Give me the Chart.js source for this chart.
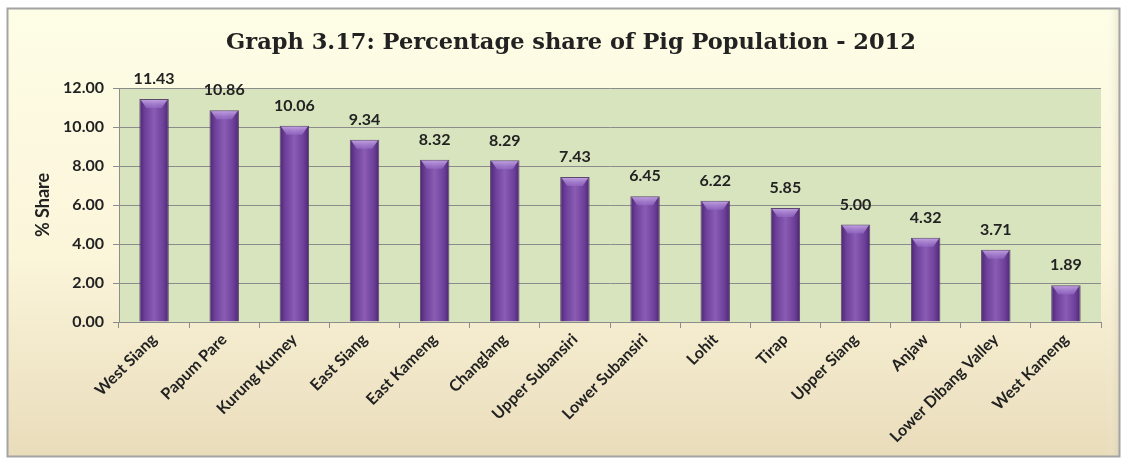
<!DOCTYPE html>
<html>
<head>
<meta charset="utf-8">
<script src="https://cdn.jsdelivr.net/npm/chart.js@4.4.1/dist/chart.umd.min.js"></script>
<style>
html,body{margin:0;padding:0;background:#ffffff;}
#wrap{width:1129px;height:464px;position:relative;}
</style>
</head>
<body>
<div id="wrap"><canvas id="c" width="1129" height="464"></canvas></div>
<script>
const chartTitle = 'Graph 3.17: Percentage share of Pig Population - 2012';
const yAxisTitle = '% Share';
const districts = ['West Siang','Papum Pare','Kurung Kumey','East Siang','East Kameng','Changlang','Upper Subansiri','Lower Subansiri','Lohit','Tirap','Upper Siang','Anjaw','Lower Dibang Valley','West Kameng'];
const shares = [11.43,10.86,10.06,9.34,8.32,8.29,7.43,6.45,6.22,5.85,5.00,4.32,3.71,1.89];
const yTicks = [0,2,4,6,8,10,12];

const BAR_PCT = 0.42;
const labelFont = 'Lato, "Open Sans", sans-serif';

function barGradient(c){
  const chart = c.chart;
  const xs = chart.scales && chart.scales.x;
  if (!xs || c.type !== 'data' || !chart.chartArea) return '#7a4aa6';
  const cx = xs.getPixelForValue(c.dataIndex);
  const w = (xs.width / districts.length) * BAR_PCT;
  const g = chart.ctx.createLinearGradient(cx - w/2, 0, cx + w/2, 0);
  g.addColorStop(0, '#4c2572');
  g.addColorStop(0.18, '#6c3f98');
  g.addColorStop(0.5, '#8a5cb4');
  g.addColorStop(0.82, '#6c3f98');
  g.addColorStop(1, '#4c2572');
  return g;
}

const framePlugin = {
  id: 'frame',
  beforeDraw(chart){
    const ctx = chart.ctx;
    const W = chart.width, H = chart.height;
    ctx.save();
    ctx.fillStyle = '#ffffff';
    ctx.fillRect(0,0,W,H);
    const fx = 7, fy = 8, fw = W - 16, fh = H - 15;
    const g = ctx.createLinearGradient(0, fy, 0, fy + fh);
    g.addColorStop(0, '#fefde6');
    g.addColorStop(0.55, '#fbf5da');
    g.addColorStop(1, '#e9dcbb');
    ctx.fillStyle = g;
    ctx.fillRect(fx, fy, fw, fh);
    const gr = ctx.createLinearGradient(fx + fw - 14, 0, fx + fw, 0);
    gr.addColorStop(0, 'rgba(255,255,255,0)');
    gr.addColorStop(1, 'rgba(200,190,160,0.35)');
    ctx.fillStyle = gr;
    ctx.fillRect(fx + fw - 14, fy, 14, fh);
    ctx.strokeStyle = '#a3a3a3';
    ctx.lineWidth = 2;
    ctx.strokeRect(fx + 0.5, fy + 0.5, fw - 1, fh - 1);
    const a = chart.chartArea;
    ctx.fillStyle = '#d7e4bd';
    ctx.fillRect(a.left, a.top, a.right - a.left, a.bottom - a.top);
    ctx.restore();
  }
};

const barDecorPlugin = {
  id: 'barDecor',
  afterDatasetsDraw(chart){
    const ctx = chart.ctx;
    const meta = chart.getDatasetMeta(0);
    ctx.save();
    meta.data.forEach((el, i) => {
      const w = el.width, x = el.x, top = el.y;
      const l = x - w/2, r = x + w/2;
      ctx.beginPath();
      ctx.moveTo(l + 1.5, top + 1);
      ctx.lineTo(r - 1.5, top + 1);
      ctx.lineTo(r - 7, top + 9);
      ctx.lineTo(l + 7, top + 9);
      ctx.closePath();
      const g = ctx.createLinearGradient(0, top, 0, top + 9);
      g.addColorStop(0, 'rgba(200,170,230,0.95)');
      g.addColorStop(1, 'rgba(150,110,200,0.6)');
      ctx.fillStyle = g;
      ctx.fill();
      ctx.fillStyle = '#222222';
      ctx.font = 'bold 16px ' + labelFont;
      ctx.textAlign = 'center';
      ctx.textBaseline = 'middle';
      ctx.fillText(shares[i].toFixed(2), x, top - 20);
    });
    ctx.restore();
  }
};

new Chart(document.getElementById('c'), {
  type: 'bar',
  data: {
    labels: districts,
    datasets: [{
      data: shares,
      backgroundColor: barGradient,
      borderColor: 'rgba(70,45,95,0.85)',
      borderWidth: 1,
      borderSkipped: 'bottom',
      categoryPercentage: 1,
      barPercentage: BAR_PCT
    }]
  },
  options: {
    responsive: false,
    animation: false,
    devicePixelRatio: 1,
    layout: { padding: { top: 0, left: 41, right: 28, bottom: 8 } },
    plugins: {
      legend: { display: false },
      tooltip: { enabled: false },
      title: {
        display: true,
        text: chartTitle,
        color: '#222222',
        font: { family: '"DejaVu Serif", "Liberation Serif", serif', size: 22.5, weight: 'bold', lineHeight: 1.2 },
        padding: { top: 30, bottom: 31 }
      }
    },
    scales: {
      x: {
        grid: { display: true, drawOnChartArea: false, drawTicks: true, tickLength: 6, color: '#8c8c8c', offset: true },
        border: { display: true, color: '#8c8c8c', width: 1 },
        ticks: {
          color: '#222222',
          font: { family: labelFont, size: 16, weight: 'bold' },
          minRotation: 45, maxRotation: 45,
          autoSkip: false,
          padding: 2
        },
        afterFit(s){ s.height = 134; }
      },
      y: {
        min: 0, max: 12,
        afterBuildTicks(s){ s.ticks = yTicks.map(v => ({ value: v })); },
        grid: { color: '#8c8c8c', lineWidth: 1, tickLength: 6, drawTicks: true },
        border: { display: true, color: '#8c8c8c', width: 1 },
        ticks: {
          color: '#222222',
          font: { family: labelFont, size: 16, weight: 'bold' },
          padding: 9,
          callback: v => Number(v).toFixed(2)
        },
        title: {
          display: true,
          text: yAxisTitle,
          color: '#222222',
          font: { family: labelFont, size: 18, weight: 'bold', lineHeight: 1.2 },
          padding: { top: -9, bottom: 0 }
        },
        afterFit(s){ s.width = 78; }
      }
    }
  },
  plugins: [framePlugin, barDecorPlugin]
});
</script>
</body>
</html>
